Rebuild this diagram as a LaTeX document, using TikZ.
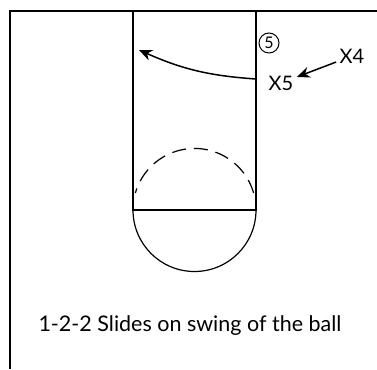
\documentclass[tikz,border=0pt]{standalone}
\usepackage{fontspec}
\setmainfont{Lato}
\usetikzlibrary{arrows.meta}

\begin{document}
\begin{tikzpicture}[x=1pt,y=-1pt,>={Stealth[length=13pt,width=11pt]},line width=1.2pt,
  player/.style={font=\fontsize{20}{22}\selectfont,inner sep=3pt},
  offense/.style={circle,draw,line width=1pt,inner sep=0pt,minimum size=20pt,font=\fontsize{16}{17}\selectfont}]
\useasboundingbox (0,0) rectangle (377,369);
% court edges
\draw[line width=1.9pt] (377,11) -- (10,11) -- (10,369);
% lane and free throw circle
\draw (133,11) -- (133,210) -- (256,210) -- (256,11);
\draw (256,210) arc[start angle=0,end angle=180,radius=61.5];
\draw[dash pattern=on 14pt off 8pt] (253.6,193) arc[start angle=-16,end angle=-164,radius=61.5];
% players
\node[offense] (o5) at (269,43) {5};
\node[player] (x4) at (352,56) {X4};
\node[player] (x5) at (281,83) {X5};
\coordinate (p5) at (256,79);
\coordinate (cut) at (139,50);
\draw[->,line width=1.5pt] (p5) to[bend left=10] (cut);
\draw[->,line width=1.5pt] (x4) -- (x5);
\node[font=\fontsize{21.5}{24}\selectfont] (cap) at (190,326) {1-2-2 Slides on swing of the ball};
\end{tikzpicture}
\end{document}
